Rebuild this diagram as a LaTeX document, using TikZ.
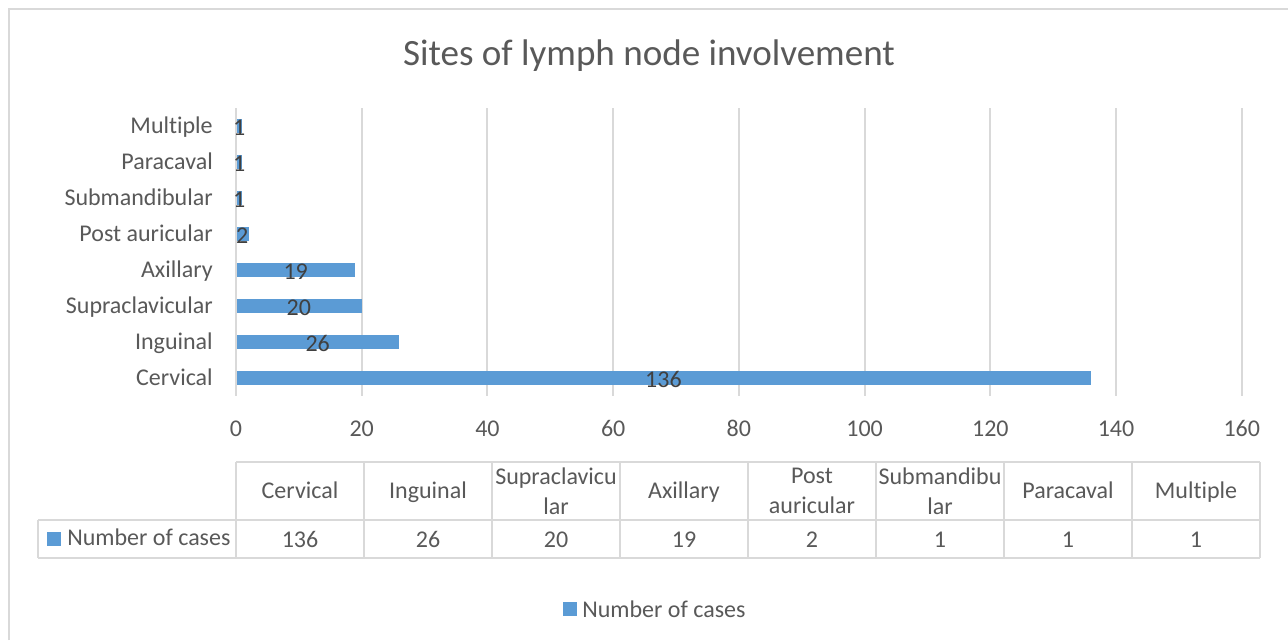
\documentclass[tikz,border=0pt]{standalone}
\usepackage{fontspec}
\setmainfont{Carlito}[Ligatures=NoCommon]
\definecolor{barblue}{HTML}{5B9BD5}
\definecolor{gridgray}{HTML}{D9D9D9}
\definecolor{labgray}{HTML}{595959}
\definecolor{datgray}{HTML}{404040}
\tikzset{
  gridline/.style={draw=gridgray, line width=1.5pt},
  barfill/.style={fill=barblue},
  catlabel/.style={anchor=base east, text=labgray, font=\fontsize{18}{22}\selectfont, inner sep=0pt},
  ticklabel/.style={anchor=base, text=labgray, font=\fontsize{18}{22}\selectfont, inner sep=0pt},
  datalabel/.style={anchor=base, text=datgray, font=\fontsize{18}{22}\selectfont, inner sep=0pt},
  celltext/.style={text=labgray, font=\fontsize{18}{22.5}\selectfont, align=center, inner sep=0pt},
  tableline/.style={draw=gridgray, line width=1.5pt},
  keybox/.style={fill=barblue},
}
\begin{document}
\begin{tikzpicture}[x=0.75pt,y=-0.75pt]
\useasboundingbox (0,0) rectangle (1288,640);
\fill[white] (0,0) rectangle (1288,640);
\draw[gridgray, line width=1.5pt] (9,640) -- (9,9) -- (1288,9);
% title
\node[anchor=base, text=labgray, font=\fontsize{27.8}{32}\selectfont, inner sep=0pt] (title) at (649,65) {Sites of lymph node involvement};
% gridlines and tick labels
\foreach \k in {0,...,8}{
  \pgfmathsetmacro{\gx}{236+\k*125.72}
  \pgfmathtruncatemacro{\tv}{\k*20}
  \draw[gridline] (\gx,108) -- (\gx,396);
  \node[ticklabel] (tick\k) at (\gx,436) {\tv};
}
% bars
\foreach \i/\name/\val in {1/Multiple/1,2/Paracaval/1,3/Submandibular/1,4/Post auricular/2,5/Axillary/19,6/Supraclavicular/20,7/Inguinal/26,8/Cervical/136}{
  \pgfmathsetmacro{\cy}{90+\i*36}
  \pgfmathsetmacro{\ex}{236+\val*6.286}
  \pgfmathsetmacro{\mx}{max(239,(236+\ex)/2)}
  \node[catlabel] (cat\i) at (213,\cy+7) {\name};
  \fill[barfill] (237,\cy-7) rectangle (\ex,\cy+7);
  \node[datalabel] (val\i) at (\mx,\cy+9) {\val};
}
% data table
\draw[tableline] (236,462) -- (1260,462);
\draw[tableline] (38,520) -- (1260,520);
\draw[tableline] (38,558) -- (1260,558);
\draw[tableline] (38,520) -- (38,558);
\foreach \k in {0,...,8}{
  \draw[tableline] (236+\k*128,462) -- (236+\k*128,558);
}
\foreach \k/\hd in {0/Cervical,1/Inguinal,3/Axillary,6/Paracaval,7/Multiple}{
  \node[celltext, anchor=base] (head\k) at (300+\k*128,498) {\hd};
}
\foreach \k/\hd in {2/{Supraclavicu\\lar},4/{Post\\auricular},5/{Submandibu\\lar}}{
  \node[celltext] (head\k) at (300+\k*128,491) {\hd};
}
\foreach \k/\v in {0/136,1/26,2/20,3/19,4/2,5/1,6/1,7/1}{
  \node[celltext, anchor=base] (cell\k) at (300+\k*128,547) {\v};
}
\fill[keybox] (47,532) rectangle (61,546);
\node[celltext, anchor=base west] (tabkey) at (67,545) {Number of cases};
% legend
\fill[keybox] (563,602) rectangle (577,616);
\node[celltext, anchor=base west] (legend) at (582,617) {Number of cases};
\end{tikzpicture}
\end{document}
